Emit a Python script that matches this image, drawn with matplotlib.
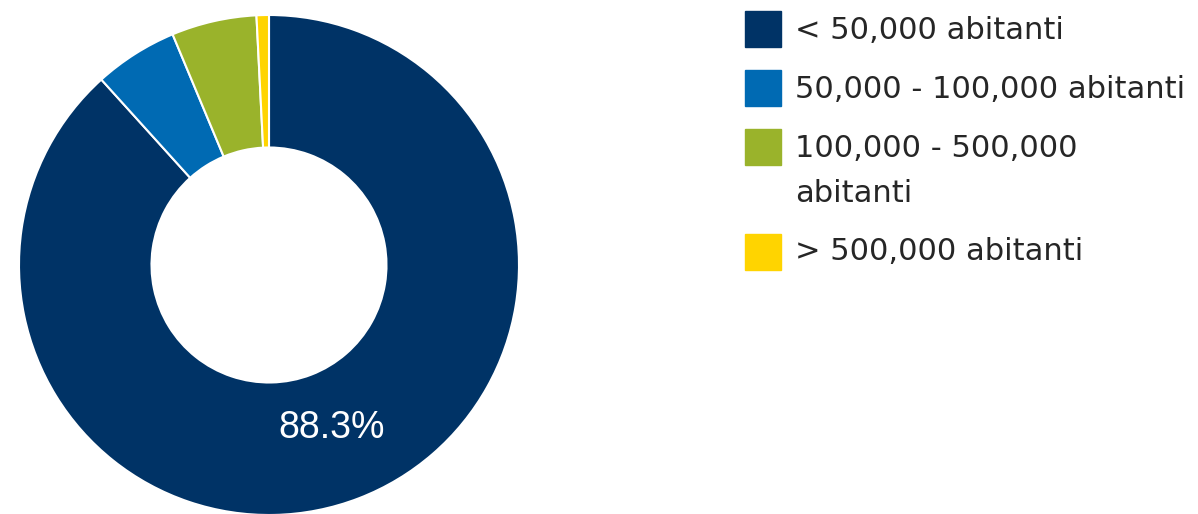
import matplotlib.pyplot as plt
from matplotlib.patches import Rectangle

plt.rcParams['font.family'] = ['DejaVu Sans']

labels = ["< 50,000 abitanti", "50,000 - 100,000 abitanti",
          "100,000 - 500,000\nabitanti", "> 500,000 abitanti"]
shares = [88.3, 5.4, 5.5, 0.8]
colors = ["#003366", "#006AB3", "#9AB32B", "#FFD400"]


def pct_label(pct):
    # only the big slice carries a label
    return f"{pct:.1f}%" if pct > 10 else ""


W, H = 1198, 514
fig = plt.figure(figsize=(W / 100, H / 100), dpi=100)

cx, cy, r = 269, 265, 250
ax = fig.add_axes([(cx - r) / W, (H - cy - r) / H, 2 * r / W, 2 * r / H])
wedges, texts, autotexts = ax.pie(
    shares, colors=colors, startangle=90, counterclock=False,
    autopct=pct_label, pctdistance=0.70,
    wedgeprops=dict(width=0.53, edgecolor="white", linewidth=1.5),
    textprops=dict(color="white", fontsize=27, family="Liberation Sans"))
ax.set_xlim(-1, 1)
ax.set_ylim(-1, 1)
ax.set_aspect("auto")
ax.axis("off")

# legend drawn by hand to match the row spacing
box_top = [11, 70, 129, 234]
baseline = [39, 98, 157, 260]
for lab, col, top, base in zip(labels, colors, box_top, baseline):
    fig.patches.append(Rectangle((745 / W, (H - top - 36) / H), 36 / W, 36 / H,
                                 transform=fig.transFigure, color=col))
    for i, line in enumerate(lab.split("\n")):
        fig.text(795 / W, (H - base - 45 * i) / H, line, fontsize=22,
                 color="#262626", va="baseline")

fig.savefig("out.png", dpi=100)
